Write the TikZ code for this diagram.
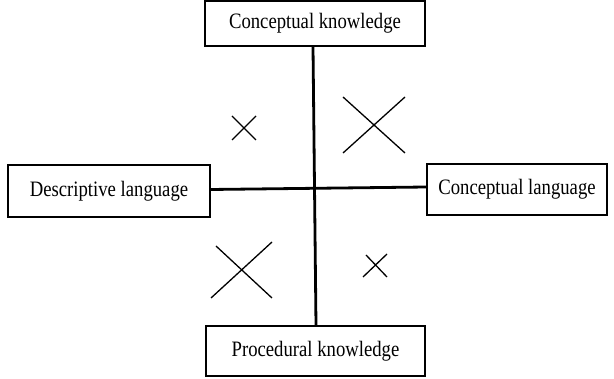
\documentclass[tikz,border=0pt]{standalone}
\usepackage{fontspec}
\setmainfont[FakeStretch=0.85]{Liberation Serif}
\usepackage{tikz}

\begin{document}
\begin{tikzpicture}[x=1pt, y=-1pt,
                box/.style={draw, line width=1.1pt, inner sep=0pt, font=\fontsize{22}{25}\selectfont},
                axis/.style={line width=2.8pt},
                xline/.style={line width=1.3pt}]
                \useasboundingbox (0, 0) rectangle (614, 379);
                \node[box, minimum width=220, minimum height=45] (ck) at (315, 23.5) {Conceptual knowledge};
                \node[box, minimum width=202, minimum height=52] (dl) at (109, 191) {Descriptive language};
                \node[box, minimum width=180, minimum height=51] (cl) at (517, 189.5) {Conceptual language};
                \node[box, minimum width=219, minimum height=50] (pk) at (315.5, 351) {Procedural knowledge};
                \draw[axis] ([xshift=-2]ck.south) -- ([xshift=0.5]pk.north);
                \draw[axis] ([yshift=1.5]dl.east) -- ([yshift=2.5]cl.west);
                \draw[xline] (232, 116) -- (256, 140) (232, 140) -- (256, 116);
                \draw[xline] (343, 97) -- (405, 153) (343, 153) -- (405, 97);
                \draw[xline] (211, 298) -- (272, 242) (216, 246) -- (272, 298);
                \draw[xline] (363, 277) -- (387, 254) (366, 255) -- (387, 277);
            \end{tikzpicture}
\end{document}
